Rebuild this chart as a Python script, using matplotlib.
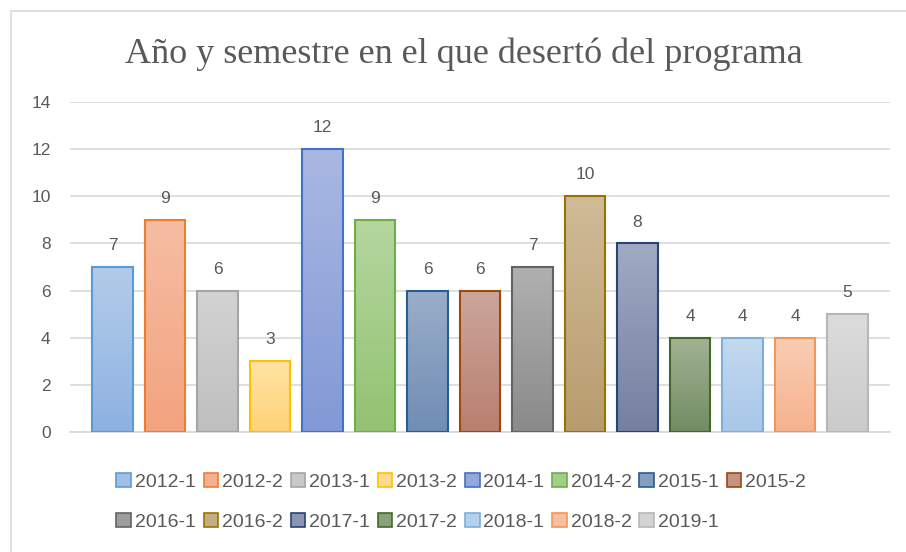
import numpy as np
import matplotlib
matplotlib.use('Agg')
import matplotlib.pyplot as plt
from matplotlib.colors import LinearSegmentedColormap, to_rgb
from matplotlib.patches import Patch, Rectangle

periods = ['2012-1', '2012-2', '2013-1', '2013-2', '2014-1', '2014-2', '2015-1', '2015-2',
           '2016-1', '2016-2', '2017-1', '2017-2', '2018-1', '2018-2', '2019-1']
counts = [7, 9, 6, 3, 12, 9, 6, 6, 7, 10, 8, 4, 4, 4, 5]

# top / bottom gradient colours and border colour per bar
fill_top = ['#b3cbea', '#f6bda3', '#d3d3d3', '#ffe3a3', '#a9b8e2', '#b4d69f', '#9aaec9', '#cca69c',
            '#b0b0b0', '#d0bb98', '#a0aac3', '#a2b394', '#c3d9ef', '#f9cdb3', '#dcdcdc']
fill_bot = ['#8db2e1', '#f3a37f', '#bfbfbf', '#ffd27a', '#8299d6', '#93c372', '#708db5', '#b97f6e',
            '#8a8a8a', '#b89c6e', '#757fa1', '#728c62', '#a8c7e9', '#f6b28f', '#cbcbcb']
edges = ['#5b9bd5', '#ed7d31', '#a5a5a5', '#ffc000', '#4472c4', '#70ad47', '#255e91', '#9e480e',
         '#636363', '#997300', '#264478', '#43682b', '#7cafdd', '#f1975a', '#b7b7b7']

txt_gray = '#595959'
plt.rcParams['font.family'] = ['Liberation Sans', 'DejaVu Sans']

fig = plt.figure(figsize=(9.06, 5.52), dpi=100)
# light chart border, cut by the right and bottom of the picture
fig.patches.append(Rectangle((11 / 906, -0.1), 1.2, (552 - 11) / 552 + 0.1,
                             transform=fig.transFigure, fill=False,
                             edgecolor='#d9d9d9', linewidth=1.2))
ax = fig.add_axes([70 / 906, (552 - 432) / 552, 820 / 906, 330 / 552])

x = np.arange(len(periods))
bars = ax.bar(x, counts, width=0.78, facecolor='none', edgecolor=edges, linewidth=1.5, zorder=3)

# vertical gradient fill inside each bar
grad = np.linspace(0, 1, 100).reshape(-1, 1)
for b, c0, c1 in zip(bars, fill_top, fill_bot):
    cmap = LinearSegmentedColormap.from_list('g', [c1, c0])
    x0, w, h = b.get_x(), b.get_width(), b.get_height()
    ax.imshow(grad, extent=[x0, x0 + w, 0, h], origin='lower', aspect='auto',
              cmap=cmap, zorder=2)

for xi, v in zip(x, counts):
    ax.annotate(str(v), (xi, v), xytext=(0, 10), textcoords='offset points',
                ha='center', va='bottom', fontsize=12.5, color=txt_gray)

ax.set_xlim(-0.81, len(periods) - 1 + 0.81)
ax.set_ylim(0, 14)
ax.set_yticks(range(0, 15, 2))
ax.set_xticks([])
ax.yaxis.grid(True, color='#d9d9d9', linewidth=1.2, zorder=0)
ax.set_axisbelow(True)
for s in ['top', 'right', 'left']:
    ax.spines[s].set_visible(False)
ax.spines['bottom'].set_color('#d9d9d9')
ax.spines['bottom'].set_linewidth(1.2)
ax.tick_params(axis='y', length=0, pad=14, labelsize=12.5, labelcolor=txt_gray)

fig.text(0.5116, 1 - 54 / 552, 'Año y semestre en el que desertó del programa',
         ha='center', va='center', fontsize=26, color=txt_gray, family='Liberation Serif')

handles = [Patch(facecolor=(np.array(to_rgb(a)) + to_rgb(b)) / 2,
                 edgecolor=e, linewidth=1.2, label=p)
           for a, b, e, p in zip(fill_top, fill_bot, edges, periods)]
# reorder so the legend fills row by row
order = []
for j in range(7):
    order += [j, 8 + j]
order.append(7)
fig.legend([handles[i] for i in order], [periods[i] for i in order], ncol=8,
           loc='center', bbox_to_anchor=(0.509, 1 - 502 / 552), frameon=False,
           fontsize=14, labelcolor=txt_gray, handlelength=0.75, handleheight=0.75,
           handletextpad=0.2, columnspacing=0.4, labelspacing=1.15)

fig.savefig('out.png', dpi=100)
